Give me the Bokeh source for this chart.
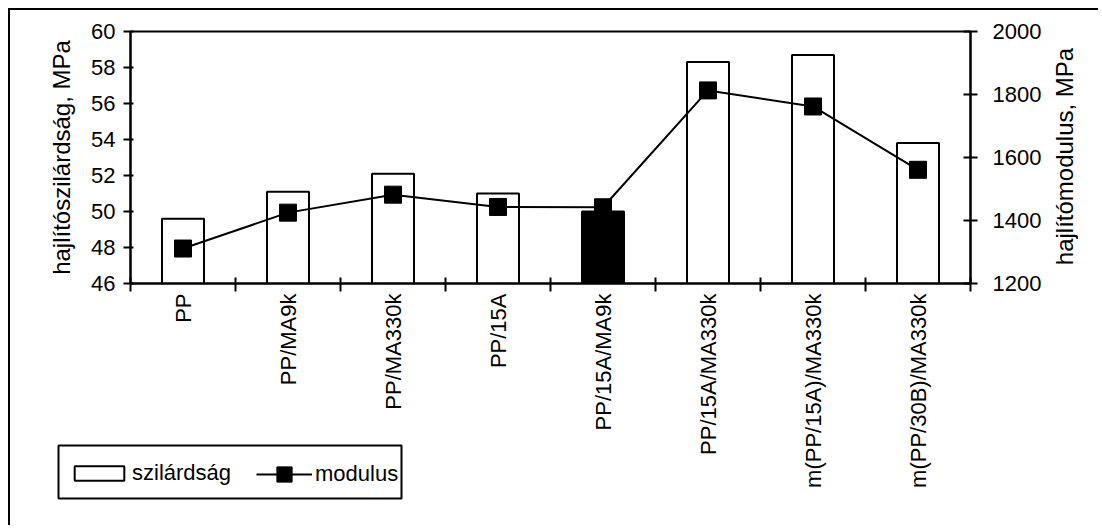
import math
from bokeh.plotting import figure
from bokeh.models import (Range1d, LinearAxis, FixedTicker, Legend, LegendItem,
                          ColumnDataSource, Label)
from bokeh.embed import file_html
from bokeh.resources import INLINE

# ---- data ----
categories = ["PP", "PP/MA9k", "PP/MA330k", "PP/15A", "PP/15A/MA9k",
              "PP/15A/MA330k", "m(PP/15A)/MA330k", "m(PP/30B)/MA330k"]
strength = [49.6, 51.1, 52.1, 51.0, 50.0, 58.3, 58.7, 53.8]      # MPa (left axis)
modulus = [1311, 1425, 1482, 1443, 1442, 1813, 1762, 1561]       # MPa (right axis)
bar_fill = ["white", "white", "white", "white", "black", "white", "white", "white"]
left_ticks = [46, 48, 50, 52, 54, 56, 58, 60]
right_ticks = [1200, 1400, 1600, 1800, 2000]
series_names = ["szilárdság", "modulus"]
left_title = "hajlítószilárdság, MPa"
right_title = "hajlítómodulus, MPa"

FONT = "Liberation Sans"
FS = "22px"
FS_TITLE = "24px"
NAN = float("nan")

n = len(categories)
centers = [i + 0.5 for i in range(n)]   # category slot centres on the x scale
bounds = list(range(n + 1))             # category slot boundaries

src = ColumnDataSource(dict(x=centers, cat=categories, strength=strength,
                            modulus=modulus, fill=bar_fill))

p = figure(width=1090, height=517,
           x_range=Range1d(0, n),
           y_range=Range1d(left_ticks[0], left_ticks[-1]),
           x_axis_location=None, y_axis_location="left",
           output_backend="svg", toolbar_location=None,
           min_border_left=120, min_border_right=130,
           min_border_top=21, min_border_bottom=244)
p.extra_y_ranges = {"mod": Range1d(right_ticks[0], right_ticks[-1])}
p.xgrid.visible = False
p.ygrid.visible = False
p.outline_line_color = "black"
p.outline_line_width = 2
p.background_fill_color = "white"
p.border_fill_color = "white"
p.margin = (8, 0, 0, 8)
p.styles = {"border-left": "2px solid black", "border-top": "2px solid black"}


def style_axis(ax):
    ax.axis_line_width = 2
    ax.axis_line_color = "black"
    ax.major_tick_line_width = 2
    ax.major_tick_line_color = "black"
    ax.minor_tick_line_color = None
    ax.major_label_text_font = FONT
    ax.major_label_text_font_size = FS
    ax.major_label_text_color = "black"
    ax.axis_label_text_font = FONT
    ax.axis_label_text_font_size = FS_TITLE
    ax.axis_label_text_font_style = "normal"
    ax.axis_label_text_color = "black"


# left axis
lax = p.yaxis[0]
style_axis(lax)
lax.ticker = FixedTicker(ticks=left_ticks)
lax.axis_label = left_title
lax.major_tick_in = 3
lax.major_tick_out = 7
lax.major_label_standoff = 8
lax.axis_label_standoff = 13

# right axis (its title is drawn on the small overlay canvas below)
rax = LinearAxis(y_range_name="mod", ticker=FixedTicker(ticks=right_ticks))
style_axis(rax)
rax.major_tick_in = 7
rax.major_tick_out = 7
rax.major_label_standoff = 15
p.add_layout(rax, "right")

# bottom tick axis (ticks between categories, no labels)
tax = LinearAxis(ticker=FixedTicker(ticks=bounds))
style_axis(tax)
tax.major_label_text_font_size = "0px"
tax.major_label_overrides = {b: "" for b in bounds}
tax.major_label_standoff = 0
tax.major_tick_in = 6
tax.major_tick_out = 8
p.add_layout(tax, "below")

# bottom category label axis (labels at slot centres, no lines)
cax = LinearAxis(ticker=FixedTicker(ticks=centers))
style_axis(cax)
cax.major_label_overrides = {c: lab for c, lab in zip(centers, categories)}
cax.axis_line_color = None
cax.major_tick_line_color = None
cax.major_tick_in = 0
cax.major_tick_out = 0
cax.major_label_orientation = math.pi / 2
cax.major_label_standoff = 2
p.add_layout(cax, "below")

# glyphs
bars = p.vbar(x="x", top="strength", bottom=left_ticks[0], width=0.4,
              fill_color="fill", line_color="black", line_width=2, source=src)
ln = p.line(x="x", y="modulus", y_range_name="mod", line_color="black",
            line_width=2, source=src)
pts = p.scatter(x="x", y="modulus", y_range_name="mod", marker="square",
                size=17, fill_color="black", line_color="black", source=src)

# ---- legend box (small canvas laid over the chart's lower left) ----
lg = figure(width=347, height=57, x_range=Range1d(0, 1), y_range=Range1d(0, 1),
            x_axis_location=None, y_axis_location=None,
            output_backend="svg", toolbar_location=None, min_border=2)
lg.xgrid.visible = False
lg.ygrid.visible = False
lg.outline_line_color = "black"
lg.outline_line_width = 2
lg.background_fill_color = "white"
lg.border_fill_color = None
lg.margin = (-82, 0, 0, 56)

# legend-only stand-ins (one undrawn NaN point each) with the series' styles
lbar = lg.vbar(x=[NAN], top=[NAN], bottom=[NAN], width=0.4, fill_color="white",
               line_color="black", line_width=2)
lline = lg.line(x=[NAN], y=[NAN], line_color="black", line_width=2)
lpts = lg.scatter(x=[NAN], y=[NAN], marker="square", size=17,
                  fill_color="black", line_color="black")


def make_legend(items, loc, gw, gh, standoff):
    L = Legend(items=items, location=loc, orientation="horizontal")
    L.label_text_font = FONT
    L.label_text_font_size = FS
    L.label_text_color = "black"
    L.border_line_color = None
    L.background_fill_alpha = 0
    L.glyph_width = gw
    L.glyph_height = gh
    L.label_standoff = standoff
    L.padding = 0
    L.margin = 0
    L.spacing = 0
    return L


legA = make_legend([LegendItem(label=series_names[0], renderers=[lbar])],
                   (10, 12), 62, 18, 2)
legB = make_legend([LegendItem(label=series_names[1], renderers=[lline, lpts])],
                   (198, 5), 56, 38, 3)
lg.add_layout(legA)
lg.add_layout(legB)

# ---- right axis title (small canvas laid beside the right axis) ----
rt = figure(width=28, height=240, x_range=Range1d(0, 1), y_range=Range1d(0, 1),
            x_axis_location=None, y_axis_location=None,
            output_backend="svg", toolbar_location=None, min_border=0)
rt.xgrid.visible = False
rt.ygrid.visible = False
rt.outline_line_color = None
rt.background_fill_color = None
rt.border_fill_color = None
rt.margin = (-464, 0, 0, 1050)
rt.add_layout(Label(x=0.5, y=0.5, text=right_title, angle=math.pi / 2,
                    text_align="center", text_baseline="middle",
                    text_font=FONT, text_font_size=FS_TITLE,
                    text_color="black"))

open("out.html", "w").write(file_html([p, lg, rt], INLINE))
